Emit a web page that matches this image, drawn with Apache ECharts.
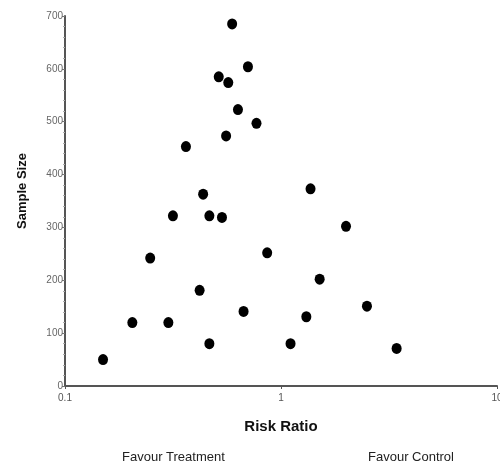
<!DOCTYPE html>
<html>
<head>
<meta charset="utf-8">
<script src="https://cdn.jsdelivr.net/npm/echarts@6/dist/echarts.min.js"></script>
<style>
  html, body { margin: 0; padding: 0; background: #fff; overflow: hidden; }
  #chart { width: 500px; height: 469px; }
</style>
</head>
<body>
<div id="chart"></div>
<script>
  // studies: risk ratio vs sample size
  var riskRatio = [0.150, 0.205, 0.248, 0.301, 0.316, 0.363, 0.420, 0.436, 0.466, 0.466,
                   0.533, 0.515, 0.570, 0.557, 0.594, 0.632, 0.671, 0.703, 0.770, 0.863,
                   1.107, 1.31, 1.37, 1.51, 2.0, 2.5, 3.43];
  var sampleSize = [50, 120, 242, 120, 322, 453, 181, 363, 322, 80,
                    319, 585, 574, 473, 685, 523, 141, 604, 497, 252,
                    80, 131, 373, 202, 302, 151, 71];
  var xTicks = [0.1, 1, 10];

  var points = [];
  for (var i = 0; i < riskRatio.length; i++) {
    points.push([riskRatio[i], sampleSize[i]]);
  }

  var chart = echarts.init(document.getElementById('chart'));
  var option = {
    animation: false,
    grid: { left: 65, right: 3, top: 16, bottom: 83, outerBoundsMode: 'none', containLabel: false },
    xAxis: {
      type: 'log',
      logBase: 10,
      min: 0.1,
      max: 10,
      name: 'Risk Ratio',
      nameLocation: 'middle',
      nameGap: 33,
      nameTextStyle: { fontFamily: 'Liberation Sans', fontWeight: 'bold', fontSize: 15, color: '#111' },
      axisLine: { lineStyle: { color: '#555', width: 2 } },
      axisTick: { show: true, length: 3, lineStyle: { color: '#555' } },
      minorTick: { show: false },
      splitLine: { show: false },
      axisLabel: {
        fontFamily: 'Liberation Sans', fontSize: 10, color: '#555', margin: 7,
        formatter: function (v) { return xTicks.indexOf(+v.toPrecision(3)) >= 0 ? String(+v.toPrecision(3)) : ''; }
      }
    },
    yAxis: {
      type: 'value',
      min: 0,
      max: 700,
      interval: 100,
      axisLine: { show: true, lineStyle: { color: '#555', width: 2 } },
      axisTick: { show: true, length: 3, lineStyle: { color: '#777' } },
      minorTick: { show: true, splitNumber: 5, length: 2, lineStyle: { color: '#aaa' } },
      splitLine: { show: false },
      axisLabel: { fontFamily: 'Liberation Sans', fontSize: 10, color: '#666', margin: 2 }
    },
    series: [{
      type: 'scatter',
      symbol: 'circle',
      symbolSize: [10, 11],
      itemStyle: { color: '#000', opacity: 1 },
      data: points
    }],
    graphic: [
      { type: 'text', x: 22, y: 191, rotation: Math.PI / 2,
        style: { text: 'Sample Size', fontFamily: 'Liberation Sans', fontWeight: 'bold', fontSize: 13,
                 fill: '#111', align: 'center', verticalAlign: 'middle' } },
      { type: 'text', left: 122, top: 451,
        style: { text: 'Favour Treatment', fontFamily: 'Liberation Sans', fontSize: 13, fill: '#222' } },
      { type: 'text', left: 368, top: 451,
        style: { text: 'Favour Control', fontFamily: 'Liberation Sans', fontSize: 13, fill: '#222' } }
    ]
  };
  chart.setOption(option);
</script>
</body>
</html>
